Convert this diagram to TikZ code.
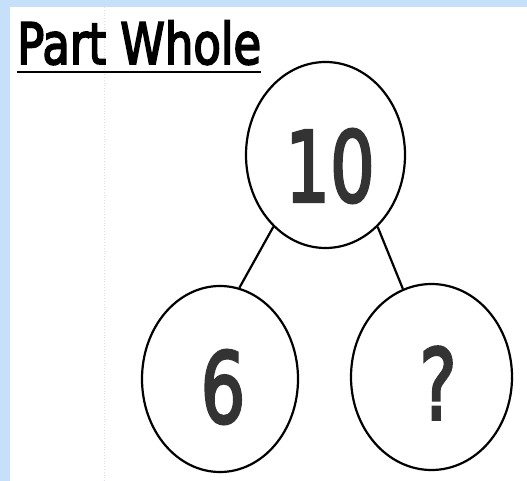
\documentclass[tikz,border=0pt]{standalone}
\usepackage{fontspec}
\setmainfont{DejaVu Sans}
\newfontfamily\heavyfont[FakeBold=3.5]{DejaVu Sans}
\newfontfamily\numfont[FakeBold=3]{DejaVu Sans}
\usetikzlibrary{shapes.geometric}

\definecolor{bandblue}{HTML}{C6E0FA}
\definecolor{guide}{HTML}{DCDCF5}
\definecolor{ink}{HTML}{333333}

\tikzset{
  circ/.style = {draw, ellipse, line width=2.2pt, inner sep=0pt},
  num/.style  = {inner sep=0pt, text=ink, xscale=0.72,
                 font=\numfont\fontsize{98}{100}\selectfont},
}

\begin{document}
\begin{tikzpicture}[x=1pt, y=-1pt]
\useasboundingbox (0,0) rectangle (527,481);
\fill[white] (0,0) rectangle (527,481);
\fill[bandblue] (0,0) rectangle (527,7);
\fill[bandblue] (0,0) rectangle (10,481);
\draw[guide, dotted, line width=0.8pt] (104,7) -- (104,481);

% title
\node[anchor=base west, inner sep=0pt, xscale=0.79,
      font=\heavyfont\fontsize{57}{60}\selectfont] (title) at (17,64) {Part Whole};
\draw[line width=2.4pt] ([yshift=-8pt]title.base west) -- ([yshift=-8pt]title.base east);

% whole and parts
\node[circ, minimum width=159pt, minimum height=186pt] (whole) at (325.5,155) {};
\node[circ, minimum width=156pt, minimum height=186pt] (partA) at (220,379) {};
\node[circ, minimum width=161pt, minimum height=186pt] (partB) at (431.5,377) {};

\node[num] (ten) at (330,166) {10};
\node[num] (six) at (223,387) {6};
\node[num] (ask) at (438,383) {?};

\draw[line width=2.2pt] (whole.234) -- (partA.78);
\draw[line width=2.2pt] (whole.306) -- (partB.108);
\end{tikzpicture}
\end{document}
